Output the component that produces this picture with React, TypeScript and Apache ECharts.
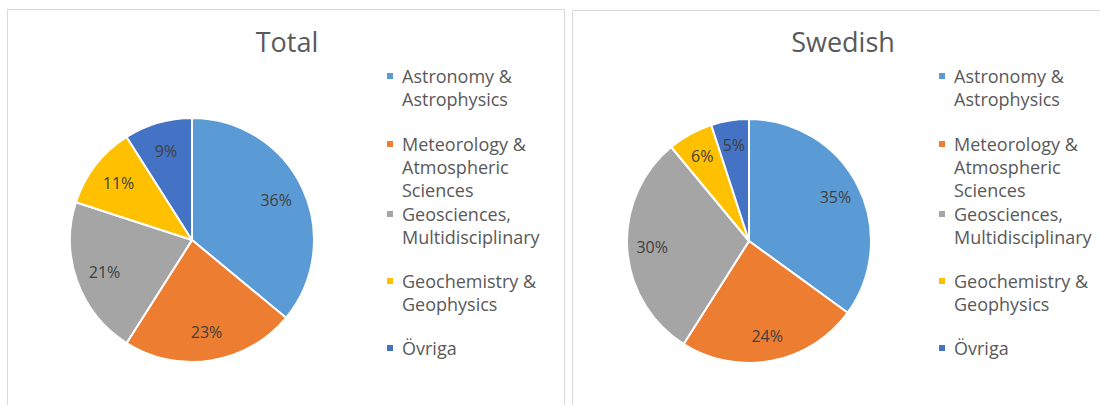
import React, { useEffect, useRef } from "react";
import * as echarts from "echarts";

const categories = [
  "Astronomy & Astrophysics",
  "Meteorology & Atmospheric Sciences",
  "Geosciences, Multidisciplinary",
  "Geochemistry & Geophysics",
  "Övriga",
];
const legendLines = [
  "Astronomy &\nAstrophysics",
  "Meteorology &\nAtmospheric\nSciences",
  "Geosciences,\nMultidisciplinary",
  "Geochemistry &\nGeophysics",
  "Övriga",
];
const totalValues = [36, 23, 21, 11, 9];
const swedishValues = [35, 24, 30, 6, 5];
const titles = ["Total", "Swedish"];
const colors = ["#5B9BD5", "#ED7D31", "#A5A5A5", "#FFC000", "#4472C4"];

const FONT = "'Open Sans', sans-serif";
const LEGEND_Y = [76, 144, 214, 281, 348];

export default function App() {
  const ref = useRef<HTMLDivElement>(null);
  useEffect(() => {
    if (!ref.current) return;
    const chart = echarts.init(ref.current, undefined, { renderer: "svg" });

    const panels = [
      { cx: 192, cy: 240, titleX: 287, legendX: 387, values: totalValues, labelR0: 58 },
      { cx: 749, cy: 241, titleX: 843, legendX: 939, values: swedishValues, labelR0: 66 },
    ];
    const R = 122;

    const series: any[] = [];
    const graphics: any[] = [
      {
        type: "rect",
        shape: { x: 7.5, y: 9.5, width: 557, height: 420 },
        style: { fill: "none", stroke: "#D9D9D9", lineWidth: 1 },
        silent: true,
      },
      {
        type: "rect",
        shape: { x: 572.5, y: 10.5, width: 540, height: 420 },
        style: { fill: "none", stroke: "#D9D9D9", lineWidth: 1 },
        silent: true,
      },
    ];

    panels.forEach((p) => {
      const data = categories.map((c, i) => ({
        name: c,
        value: p.values[i],
        itemStyle: { color: colors[i] },
      }));
      series.push({
        type: "pie",
        center: [p.cx, p.cy],
        radius: [0, R],
        startAngle: 90,
        clockwise: true,
        label: { show: false },
        labelLine: { show: false },
        itemStyle: { borderColor: "#FFFFFF", borderWidth: 2 },
        emphasis: { disabled: true },
        data,
      });
      series.push({
        type: "pie",
        center: [p.cx, p.cy],
        radius: [p.labelR0, R],
        startAngle: 90,
        clockwise: true,
        silent: true,
        itemStyle: { color: "rgba(0,0,0,0)", borderWidth: 0 },
        label: {
          show: true,
          position: "inside",
          formatter: "{c}%",
          color: "#404040",
          fontSize: 16,
          fontFamily: FONT,
        },
        labelLine: { show: false },
        emphasis: { disabled: true },
        data: categories.map((c, i) => ({ name: c, value: p.values[i] })),
      });

      legendLines.forEach((txt, i) => {
        const yc = LEGEND_Y[i];
        graphics.push({
          type: "rect",
          shape: { x: p.legendX, y: yc - 3, width: 6, height: 6 },
          style: { fill: colors[i] },
          silent: true,
        });
        graphics.push({
          type: "text",
          x: p.legendX + 15,
          y: yc - 11.5,
          style: {
            text: txt,
            fill: "#595959",
            font: `18px ${FONT}`,
            lineHeight: 23,
            verticalAlign: "top",
            align: "left",
          },
          silent: true,
        });
      });
    });

    chart.setOption({
      animation: false,
      backgroundColor: "#FFFFFF",
      title: panels.map((p, i) => ({
        text: titles[i],
        left: p.titleX,
        top: 28,
        padding: 0,
        textAlign: "center",
        textStyle: {
          color: "#595959",
          fontSize: 27,
          fontWeight: "normal",
          fontFamily: FONT,
        },
      })),
      series,
      graphic: graphics,
    });
    return () => chart.dispose();
  }, []);
  return (
    <div
      ref={ref}
      style={{ position: "absolute", left: 0, top: 0, width: 1100, height: 405 }}
    />
  );
}
